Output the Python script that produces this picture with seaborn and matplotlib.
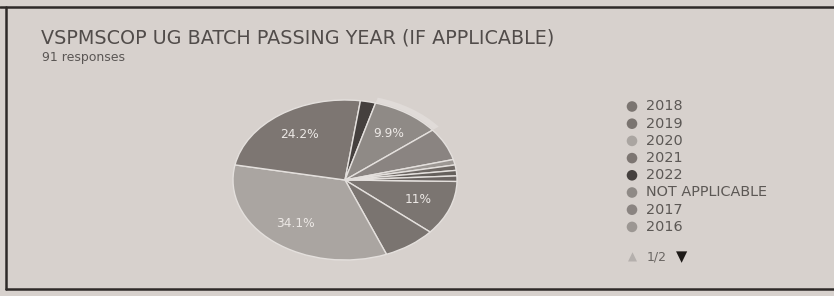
import matplotlib
matplotlib.use("Agg")
import matplotlib.pyplot as plt
import seaborn as sns
from matplotlib.lines import Line2D

# ---- data ----
title = "VSPMSCOP UG BATCH PASSING YEAR (IF APPLICABLE)"
subtitle = "91 responses"
categories = ["2018", "2019", "2020", "2021", "2022", "NOT APPLICABLE", "2017", "2016",
              "2015", "2014", "2013"]
counts = [10, 7, 31, 22, 2, 9, 6, 1, 1, 1, 1]
slice_colors = ["#7b7571", "#7a7470", "#aaa5a1", "#7d7672", "#45403e", "#8f8a86",
                "#8a8481", "#9c9793", "#6e6864", "#65605c", "#6a6461"]
legend_shown = 8
pager_text = "1/2"

sns.set_theme(style="white")
plt.rcParams["font.family"] = ["DejaVu Sans"]

W, H = 834, 296
bg = "#d7d1cd"
fig = plt.figure(figsize=(W / 100, H / 100), dpi=100, facecolor=bg)

def fx(px):
    return px / W

def fy(py):
    return 1 - py / H

# frame lines (photo of bordered card)
frame = "#2e2a28"
fig.add_artist(Line2D([0, 1], [fy(7), fy(7)], color=frame, lw=1.8, transform=fig.transFigure))
fig.add_artist(Line2D([fx(6), fx(6)], [fy(7), fy(289)], color=frame, lw=1.8, transform=fig.transFigure))
fig.add_artist(Line2D([fx(6), 1], [fy(289), fy(289)], color=frame, lw=1.8, transform=fig.transFigure))

fig.text(fx(41), fy(38), title, fontsize=13.8, color="#514c4a", va="center", ha="left")
fig.text(fx(42), fy(58), subtitle, fontsize=9.0, color="#5a5654", va="center", ha="left")

# pie (elliptical due to photo perspective)
cx, cy, rx, ry = 345, 180, 112, 80
ax = fig.add_axes([0, 0, 1, 1])
ax.set_facecolor("none")

def fmt(p):
    if p < 9:
        return ""
    s = f"{p:.1f}"
    if s.endswith(".0"):
        s = s[:-2]
    return s + "%"

wedges, texts, autotexts = ax.pie(
    counts, colors=slice_colors, startangle=-1, counterclock=False,
    autopct=fmt, pctdistance=0.7,
    wedgeprops=dict(edgecolor="#e4e0dd", linewidth=1.0),
    textprops=dict(color="#ece8e5", fontsize=8.8))

# hover highlight ring on one slice
ring_colors = ["none"] * len(counts)
ring_colors[categories.index("NOT APPLICABLE")] = "#e0dbd8"
ax.pie(counts, colors=ring_colors, startangle=-1, counterclock=False, radius=1.07,
       wedgeprops=dict(width=0.06, linewidth=0))
ax.set_xlim(-1.08, 1.08)
ax.set_ylim(-1.08, 1.08)
ax.set_aspect("auto")
ax.set_position([fx(cx - rx * 1.08), fy(cy + ry * 1.08), 2 * rx * 1.08 / W, 2 * ry * 1.08 / H])
ax.axis("off")

# legend (first page)
lax = fig.add_axes([0, 0, 1, 1])
lax.set_xlim(0, W)
lax.set_ylim(H, 0)
lax.axis("off")
lax.set_facecolor("none")
y0, dy = 106.5, 17.2
for i, cat in enumerate(categories[:legend_shown]):
    y = y0 + i * dy
    lax.scatter([632], [y], s=58, color=slice_colors[i], edgecolors="none")
    lax.text(646, y, cat, fontsize=10.4, color="#5c5855", va="center", ha="left")

lax.text(632, 257, "\u25B2", fontsize=8.5, color="#b5b0ad", va="center", ha="center")
lax.text(647, 257, pager_text, fontsize=9, color="#6a6663", va="center", ha="left")
lax.text(682, 257, "\u25BC", fontsize=10.5, color="#1e1a18", va="center", ha="center")

fig.savefig("out.png", dpi=100, facecolor=bg)
